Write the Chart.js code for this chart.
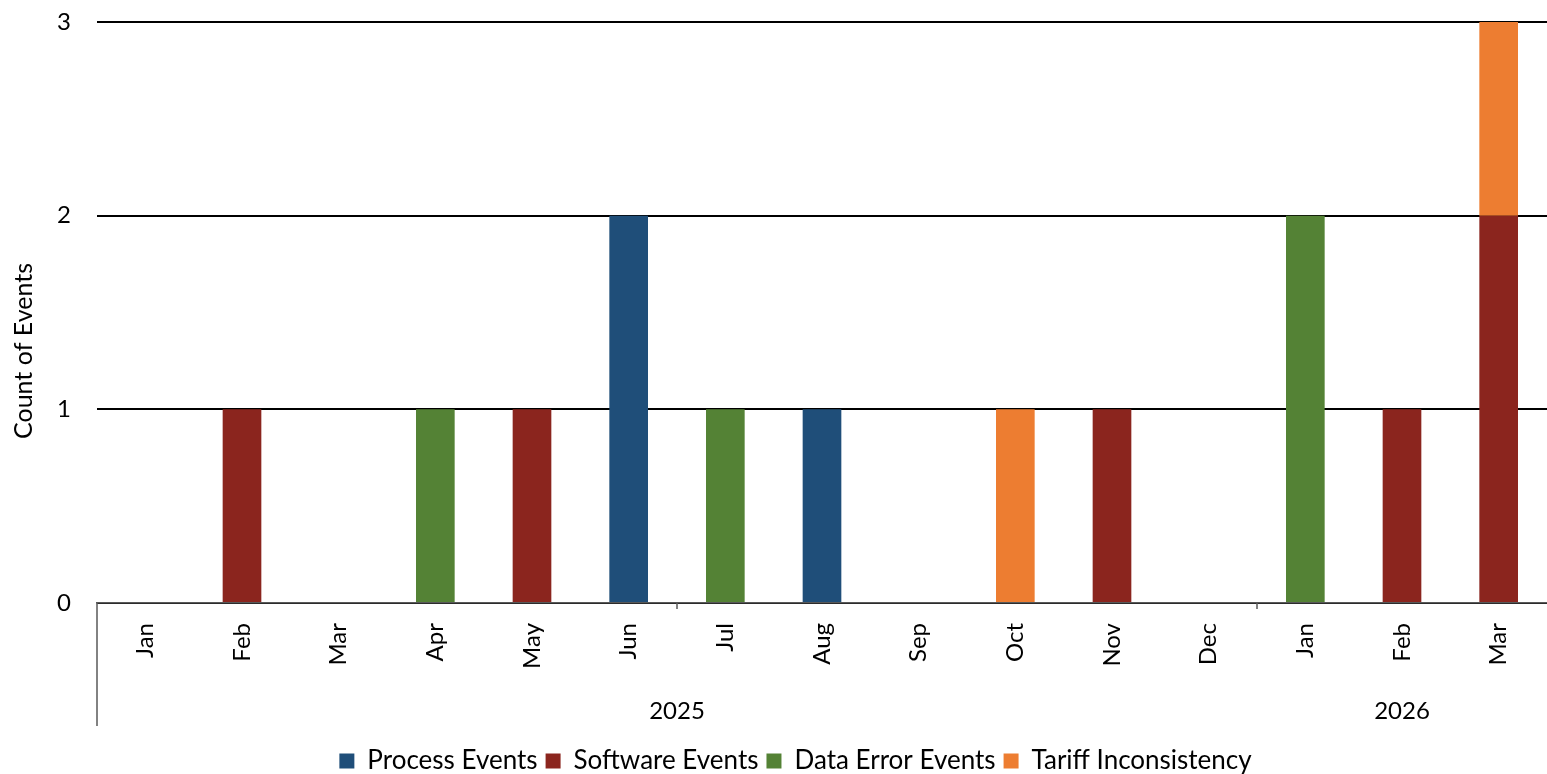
<!DOCTYPE html>
<html><head><meta charset="utf-8">
<script src="https://cdn.jsdelivr.net/npm/chart.js@4"></script>
<style>html,body{margin:0;padding:0;background:#fff}#wrap{width:1547px;height:774px}</style>
</head><body><div id="wrap"><canvas id="c"></canvas></div>
<script>
const months = ["Jan","Feb","Mar","Apr","May","Jun","Jul","Aug","Sep","Oct","Nov","Dec","Jan","Feb","Mar"];
const years = [{label:"2025", from:0, to:11}, {label:"2026", from:12, to:14}];
const yTicks = [0,1,2,3];
const yTitle = "Count of Events";
const processEvents = [0,0,0,0,0,2,0,1,0,0,0,0,0,0,0];
const softwareEvents = [0,1,0,0,1,0,0,0,0,0,1,0,0,1,2];
const dataErrorEvents = [0,0,0,1,0,0,1,0,0,0,0,0,2,0,0];
const tariffInconsistency = [0,0,0,0,0,0,0,0,0,1,0,0,0,0,1];

const FONT = "Lato, 'Open Sans', sans-serif";
const groupPlugin = {
  id:'groups',
  afterLayout(chart){
    if (chart.legend) { chart.legend.left += 21; chart.legend.right += 21; }
  },
  afterDraw(chart){
    const ctx = chart.ctx, a = chart.chartArea;
    const step = (a.right - a.left)/months.length;
    ctx.save();
    ctx.strokeStyle = '#595959'; ctx.lineWidth = 1.5;
    ctx.beginPath();
    ctx.moveTo(a.left, a.bottom); ctx.lineTo(a.left, a.bottom + 123);
    [6, 12].forEach(i => { const px = a.left + i*step; ctx.moveTo(px, a.bottom); ctx.lineTo(px, a.bottom + 6); });
    ctx.stroke();
    ctx.fillStyle = '#000'; ctx.font = '24px ' + FONT; ctx.textAlign = 'center'; ctx.textBaseline = 'middle';
    years.forEach(g => {
      const cx = a.left + ((g.from + g.to + 1)/2)*step;
      ctx.fillText(g.label, cx, a.bottom + 108);
    });
    ctx.font = '25px ' + FONT;
    ctx.translate(24, 351); ctx.rotate(-Math.PI/2);
    ctx.fillText(yTitle, 0, 0);
    ctx.restore();
  }
};

new Chart(document.getElementById('c'), {
  type:'bar',
  data:{ labels: months, datasets:[
    {label:'Process Events', data:processEvents, backgroundColor:'#1F4E79'},
    {label:'Software Events', data:softwareEvents, backgroundColor:'#8B251E'},
    {label:'Data Error Events', data:dataErrorEvents, backgroundColor:'#548235'},
    {label:'Tariff Inconsistency', data:tariffInconsistency, backgroundColor:'#ED7D31'}
  ]},
  options:{
    responsive:true, maintainAspectRatio:false, animation:false,
    layout:{padding:{top:22,right:-2,bottom:-10,left:0}},
    datasets:{bar:{barPercentage:0.4, categoryPercentage:1}},
    plugins:{
      tooltip:{enabled:false},
      legend:{position:'bottom', labels:{font:{family:FONT,size:26}, color:'#000', boxWidth:15, boxHeight:15, padding:8}}
    },
    scales:{
      x:{stacked:true, grid:{display:false}, border:{color:'#595959', width:1.5},
         ticks:{color:'#000', font:{family:FONT,size:24}, maxRotation:90, minRotation:90, padding:12},
         afterFit(s){ s.height = 137; s.paddingLeft = 0; s.paddingRight = 0; }},
      y:{stacked:true, min:0, max:3, afterBuildTicks(s){ s.ticks = yTicks.map(v=>({value:v})); },
         grid:{color:'#000', lineWidth:2, drawTicks:false}, border:{display:false},
         ticks:{color:'#000', font:{family:FONT,size:24}, padding:26},
         afterFit(s){ s.width = 97; s.paddingTop = 0; s.paddingBottom = 0; }}
    }
  },
  plugins:[groupPlugin]
});
</script></body></html>
